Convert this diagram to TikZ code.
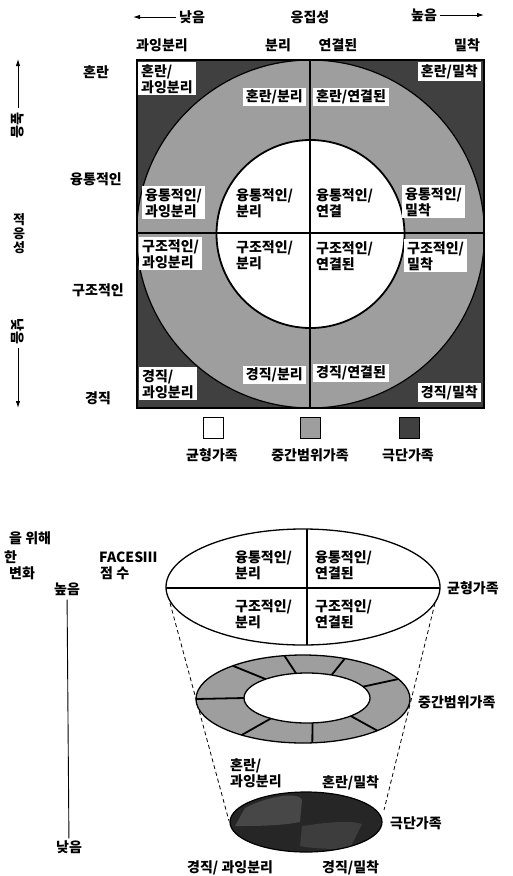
\documentclass[tikz,border=0pt]{standalone}
\usepackage{fontspec}
\setmainfont{Noto Sans CJK KR}
\usetikzlibrary{arrows.meta}
\begin{document}
\begin{tikzpicture}[x=1pt,y=-1pt,
  every node/.style={font=\fontsize{14}{16}\selectfont\bfseries, inner sep=0pt},
  lbl/.style={fill=white, inner xsep=3pt, inner ysep=2pt, align=left},
  txt/.style={align=left},
  midfill/.style={fill=black!38},
  extfill/.style={fill=black!75},
  axarrow/.style={line width=0.9pt, -{Latex[length=7pt,width=4.5pt]}},
  legbox/.style={draw=black, line width=1pt, minimum width=20pt, minimum height=21pt},
  dashline/.style={line width=0.8pt, dash pattern=on 4pt off 3pt}
]
\useasboundingbox (0,0) rectangle (513,876);

% ================= TOP SQUARE =================
\fill[black!75] (137,60) rectangle (484,408);
\begin{scope}
  \clip (137,60) rectangle (484,408);
  \filldraw[fill=black!38, draw=black, line width=1.2pt] (310.5,234) circle[radius=174pt];
\end{scope}
\filldraw[fill=white, draw=black, line width=1.8pt] (310.5,234) circle[radius=94pt];
\draw[line width=1.2pt] (310,60) -- (310,408);
\draw[line width=1.2pt] (137,233) -- (484,233);
\draw[line width=2.6pt] (137,60) rectangle (484,408);

% cell labels
\node[lbl, anchor=north west] (c11) at (138,62) {혼란/\\과잉분리};
\node[lbl, anchor=north east] (c14) at (481,62) {혼란/밀착};
\node[lbl, anchor=east] (c12) at (306,97) {혼란/분리};
\node[lbl, anchor=west] (c13) at (313,97) {혼란/연결된};

\node[lbl, anchor=north west] (c21) at (142,186) {융통적인/\\과잉분리};
\node[txt, anchor=west] (c22) at (236,203) {융통적인/\\분리};
\node[txt, anchor=west] (c23) at (316,203) {융통적인/\\연결};
\node[lbl, anchor=north west] (c24) at (402,185) {융통적인/\\밀착};

\node[lbl, anchor=north west] (c31) at (139,237) {구조적인/\\과잉분리};
\node[txt, anchor=west] (c32) at (236,255) {구조적인/\\분리};
\node[txt, anchor=west] (c33) at (316,256) {구조적인/\\연결된};
\node[lbl, anchor=north west] (c34) at (404,239) {구조적인/\\밀착};

\node[lbl, anchor=north west] (c41) at (139,367) {경직/\\과잉분리};
\node[lbl, anchor=east] (c42) at (306,375) {경직/분리};
\node[lbl, anchor=west] (c43) at (313,373) {경직/연결된};
\node[lbl, anchor=north east] (c44) at (481,383) {경직/밀착};

% column headers
\node (h1) at (162,45) {과잉분리};
\node (h2) at (278,45) {분리};
\node (h3) at (338,45) {연결된};
\node (h4) at (467,45) {밀착};

% row headers
\node (r1) at (96,72) {혼란};
\node (r2) at (96,179) {융통적인};
\node (r3) at (98,290) {구조적인};
\node (r4) at (98,398) {경직};

% top axis
\node (lowtop) at (192,17) {낮음};
\node (cohesion) at (310,17) {응집성};
\node (hightop) at (424,15) {높음};
\coordinate (lowtip) at (133,17);
\coordinate (hightip) at (484,15);
\draw[axarrow] ([xshift=-3pt]lowtop.west) -- (lowtip);
\draw[axarrow] ([xshift=3pt]hightop.east) -- (hightip);

% left axis
\node[rotate=-90] (highleft) at (18,125) {높음};
\node[align=center, font=\fontsize{13}{14}\selectfont\bfseries] (adapt) at (19,234) {적\\응\\성};
\node[rotate=-90] (lowleft) at (18,331) {낮음};
\coordinate (uptip) at (18,59);
\coordinate (downtip) at (18,408);
\draw[axarrow, shorten <=4pt] (highleft) -- (uptip);
\draw[axarrow, shorten <=4pt] (lowleft) -- (downtip);

% legend
\node[legbox, fill=white] (lg1) at (213,428) {};
\node[legbox, midfill] (lg2) at (310,428) {};
\node[legbox, extfill] (lg3) at (409,428) {};
\node (lt1) at (212,455) {균형가족};
\node (lt2) at (310,455) {중간범위가족};
\node (lt3) at (408,455) {극단가족};

% ================= BOTTOM PART =================
% left texts
\node[anchor=west] (t1) at (9,538) {을 위해};
\node[anchor=west] (t2) at (4,557) {한};
\node[anchor=west] (t3) at (9,573) {변화};
\node[anchor=west] (faces) at (99,557) {FACESⅢ};
\node[anchor=west] (score) at (100,573) {점 수};
\node (bhigh) at (67,589) {높음};
\node (blow) at (69,847) {낮음};
\draw[line width=0.9pt, shorten <=4pt, shorten >=2pt] (bhigh) -- (blow);

% dashed cone lines
\coordinate (dl1) at (170,603);
\coordinate (dl2) at (229,821);
\coordinate (dr1) at (435,603);
\coordinate (dr2) at (384,810);
\draw[dashline] (dl1) -- (dl2);
\draw[dashline] (dr1) -- (dr2);

% top ellipse (balanced)
\filldraw[fill=white, draw=black, line width=1.3pt] (303,587) ellipse[x radius=137pt, y radius=58pt];
\begin{scope}
  \clip (303,587) ellipse[x radius=137pt, y radius=58pt];
  \draw[line width=1.2pt] (160,588) -- (450,588);
  \draw[line width=1.2pt] (307,520) -- (307,650);
\end{scope}
\node[txt, anchor=west] (e1) at (235,565) {융통적인/\\분리};
\node[txt, anchor=west] (e2) at (315,565) {융통적인/\\연결된};
\node[txt, anchor=west] (e3) at (235,614) {구조적인/\\분리};
\node[txt, anchor=west] (e4) at (315,614) {구조적인/\\연결된};
\node[anchor=west] (bal) at (447,588) {균형가족};

% middle ring
\filldraw[fill=black!38, draw=black, line width=1.3pt] (303,699) ellipse[x radius=107pt, y radius=44pt];
\filldraw[fill=white, draw=black, line width=1.3pt] (307,698) ellipse[x radius=63pt, y radius=25pt];
\foreach \t in {180,131,100,67,27,-46,-85,-125}{
  \draw[line width=1.8pt] ({307+63*cos(\t)},{698-25*sin(\t)}) -- ({303+107*cos(\t)},{699-44*sin(\t)});
}
\node[anchor=west] (midl) at (418,702) {중간범위가족};

% extreme ellipse
\fill[black!85] (306,822) ellipse[x radius=76pt, y radius=30pt];
\begin{scope}
  \clip (306,822) ellipse[x radius=76pt, y radius=30pt];
  \fill[black!72] (245,808) .. controls (270,795) and (300,792) .. (302,800) -- (300,822) .. controls (280,826) and (255,826) .. (235,826) -- cycle;
  \fill[black!76] (302,826) .. controls (330,822) and (350,820) .. (362,824) -- (350,848) .. controls (330,850) and (310,848) .. (300,846) -- cycle;
\end{scope}
\draw[line width=1.2pt] (306,822) ellipse[x radius=76pt, y radius=30pt];
\node[anchor=west] (extl) at (390,823) {극단가족};
\node[txt, anchor=west] (x1) at (230,773) {혼란/\\과잉분리};
\node[anchor=west] (x2) at (322,783) {혼란/밀착};
\node[anchor=west] (x3) at (187,868) {경직/ 과잉분리};
\node[anchor=west] (x4) at (322,868) {경직/밀착};
\end{tikzpicture}
\end{document}
